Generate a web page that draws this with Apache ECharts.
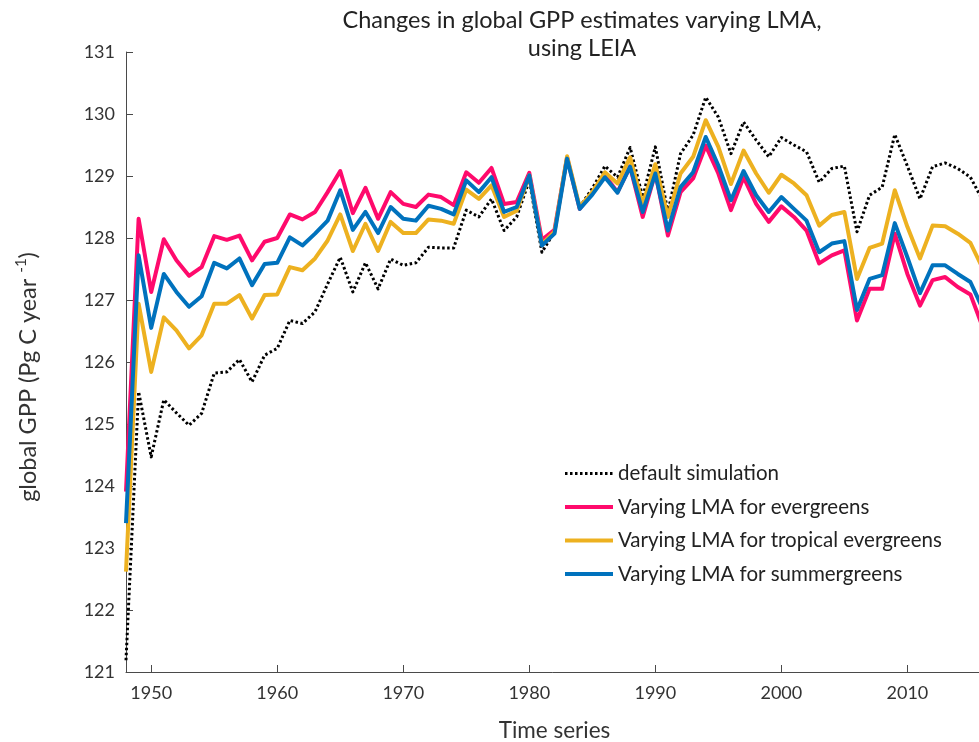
<!DOCTYPE html>
<html>
<head>
<meta charset="utf-8">
<title>Changes in global GPP estimates varying LMA, using LEIA</title>
<script src="https://cdn.jsdelivr.net/npm/echarts@6/dist/echarts.min.js"></script>
<style>
  html, body { margin: 0; padding: 0; background: #ffffff; }
  #chart { width: 979px; height: 742px; }
</style>
</head>
<body>
<div id="chart"></div>
<script>
// Simulation years
const years = [
  1948, 1949, 1950, 1951, 1952, 1953, 1954, 1955, 1956, 1957,
  1958, 1959, 1960, 1961, 1962, 1963, 1964, 1965, 1966, 1967,
  1968, 1969, 1970, 1971, 1972, 1973, 1974, 1975, 1976, 1977,
  1978, 1979, 1980, 1981, 1982, 1983, 1984, 1985, 1986, 1987,
  1988, 1989, 1990, 1991, 1992, 1993, 1994, 1995, 1996, 1997,
  1998, 1999, 2000, 2001, 2002, 2003, 2004, 2005, 2006, 2007,
  2008, 2009, 2010, 2011, 2012, 2013, 2014, 2015, 2016
];

// Global GPP (Pg C / year), default simulation
const defaultSimulation = [
  121.19, 125.52, 124.47, 125.39, 125.18, 124.98, 125.17, 125.82, 125.84, 126.04,
  125.68, 126.11, 126.22, 126.67, 126.62, 126.81, 127.26, 127.69, 127.13, 127.60,
  127.18, 127.66, 127.56, 127.60, 127.85, 127.84, 127.84, 128.45, 128.34, 128.63,
  128.12, 128.34, 128.93, 127.77, 128.10, 129.28, 128.50, 128.80, 129.16, 128.98,
  129.46, 128.66, 129.47, 128.42, 129.36, 129.66, 130.27, 129.95, 129.36, 129.87,
  129.58, 129.31, 129.62, 129.50, 129.39, 128.90, 129.12, 129.16, 128.10, 128.69,
  128.82, 129.67, 129.16, 128.63, 129.15, 129.21, 129.12, 128.98, 128.60
];

// Varying LMA for evergreens
const lmaEvergreens = [
  123.91, 128.31, 127.13, 127.98, 127.64, 127.39, 127.53, 128.03, 127.97, 128.04,
  127.64, 127.94, 128.00, 128.38, 128.30, 128.42, 128.74, 129.08, 128.40, 128.81,
  128.31, 128.74, 128.55, 128.50, 128.70, 128.66, 128.53, 129.06, 128.89, 129.13,
  128.55, 128.58, 129.05, 127.97, 128.13, 129.30, 128.47, 128.72, 129.01, 128.74,
  129.15, 128.34, 129.05, 128.04, 128.74, 128.96, 129.49, 129.04, 128.45, 128.98,
  128.55, 128.26, 128.51, 128.34, 128.12, 127.59, 127.72, 127.80, 126.67, 127.18,
  127.18, 128.07, 127.42, 126.91, 127.32, 127.37, 127.21, 127.09, 126.55
];

// Varying LMA for tropical evergreens
const lmaTropicalEvergreens = [
  122.62, 126.94, 125.84, 126.72, 126.51, 126.22, 126.43, 126.94, 126.94, 127.08,
  126.70, 127.08, 127.09, 127.53, 127.48, 127.67, 127.96, 128.38, 127.79, 128.23,
  127.79, 128.26, 128.08, 128.08, 128.30, 128.28, 128.23, 128.78, 128.63, 128.85,
  128.34, 128.44, 129.01, 127.90, 128.10, 129.32, 128.50, 128.74, 129.06, 128.88,
  129.30, 128.55, 129.19, 128.34, 129.04, 129.31, 129.90, 129.47, 128.87, 129.41,
  129.04, 128.73, 129.02, 128.88, 128.69, 128.20, 128.37, 128.42, 127.34, 127.84,
  127.91, 128.77, 128.18, 127.67, 128.20, 128.19, 128.07, 127.92, 127.50
];

// Varying LMA for summergreens
const lmaSummergreens = [
  123.40, 127.72, 126.55, 127.42, 127.13, 126.89, 127.06, 127.60, 127.51, 127.67,
  127.24, 127.58, 127.60, 128.01, 127.88, 128.07, 128.28, 128.77, 128.13, 128.42,
  128.08, 128.50, 128.31, 128.28, 128.52, 128.47, 128.38, 128.93, 128.74, 128.98,
  128.42, 128.50, 129.01, 127.88, 128.07, 129.28, 128.47, 128.70, 128.98, 128.73,
  129.15, 128.42, 129.04, 128.12, 128.82, 129.06, 129.63, 129.17, 128.61, 129.08,
  128.69, 128.42, 128.66, 128.47, 128.28, 127.77, 127.91, 127.95, 126.84, 127.34,
  127.40, 128.24, 127.69, 127.11, 127.56, 127.56, 127.42, 127.29, 126.85
];

const seriesNames = [
  'default simulation',
  'Varying LMA for evergreens',
  'Varying LMA for tropical evergreens',
  'Varying LMA for summergreens'
];

const xTickValues = [1950, 1960, 1970, 1980, 1990, 2000, 2010];

const FONT = 'Lato, "Open Sans", sans-serif';
const AXIS_COLOR = '#4a4a4a';
const TEXT_COLOR = '#333333';
const COLORS = ['#000000', '#FF0A6C', '#EDB120', '#0072BD'];
const DOTTED = [2.5, 2.5];

const pair = (vals) => years.map((y, i) => [y, vals[i]]);

const chart = echarts.init(document.getElementById('chart'), null, { renderer: 'canvas' });

const lineSeries = (idx, vals, style) => ({
  name: seriesNames[idx],
  type: 'line',
  data: pair(vals),
  showSymbol: false,
  symbol: 'none',
  clip: true,
  lineStyle: Object.assign({ color: COLORS[idx], join: 'round' }, style),
  itemStyle: { color: COLORS[idx] },
  emphasis: { disabled: true },
  animation: false
});

// legend entries: line sample only, no marker
const legendEntry = (idx, style) => ({
  name: seriesNames[idx],
  itemStyle: { opacity: 0 },
  lineStyle: Object.assign({ color: COLORS[idx] }, style)
});

chart.setOption({
  animation: false,
  textStyle: { fontFamily: FONT },
  title: {
    text: 'Changes in global GPP estimates varying LMA,\nusing LEIA',
    left: 577,
    top: 1,
    textAlign: 'center',
    textStyle: {
      fontFamily: FONT,
      fontSize: 23.5,
      fontWeight: 'normal',
      color: '#222222',
      lineHeight: 28
    }
  },
  legend: {
    orient: 'vertical',
    left: 563,
    top: 463,
    padding: 0,
    itemWidth: 48,
    itemHeight: 20,
    itemGap: 12.5,
    selectedMode: false,
    itemStyle: { opacity: 0 },
    textStyle: {
      fontFamily: FONT,
      fontSize: 20.5,
      color: '#222222',
      lineHeight: 20
    },
    data: [
      legendEntry(0, { width: 3, type: DOTTED }),
      legendEntry(1, { width: 4, type: 'solid' }),
      legendEntry(2, { width: 4, type: 'solid' }),
      legendEntry(3, { width: 4, type: 'solid' })
    ]
  },
  grid: {
    left: 126,
    top: 52,
    width: 857,
    height: 620,
    containLabel: false,
    outerBoundsMode: 'none'
  },
  xAxis: {
    type: 'value',
    min: 1948,
    max: 2016,
    name: 'Time series',
    nameLocation: 'middle',
    nameGap: 47,
    nameMoveOverlap: false,
    nameTextStyle: {
      fontFamily: FONT,
      fontSize: 22.5,
      color: TEXT_COLOR,
      verticalAlign: 'top'
    },
    splitLine: { show: false },
    axisLine: { show: true, lineStyle: { color: AXIS_COLOR, width: 1 } },
    axisTick: {
      show: true,
      inside: true,
      length: 7,
      customValues: xTickValues,
      lineStyle: { color: AXIS_COLOR, width: 1 }
    },
    axisLabel: {
      fontFamily: FONT,
      fontSize: 18,
      color: TEXT_COLOR,
      margin: 12,
      customValues: xTickValues,
      formatter: (v) => String(v)
    }
  },
  yAxis: {
    type: 'value',
    min: 121,
    max: 131,
    interval: 1,
    name: '{a|global GPP (Pg C year }{s|-1}{a|)}',
    nameLocation: 'middle',
    nameGap: 84,
    nameMoveOverlap: false,
    nameTextStyle: {
      color: TEXT_COLOR,
      padding: [0, 30, 0, 0],
      rich: {
        a: { fontFamily: FONT, fontSize: 23.5, color: TEXT_COLOR, lineHeight: 28 },
        s: { fontFamily: FONT, fontSize: 15, color: TEXT_COLOR, lineHeight: 28, verticalAlign: 'top', padding: [0, 0, 10, 0] }
      }
    },
    splitLine: { show: false },
    axisLine: { show: true, lineStyle: { color: AXIS_COLOR, width: 1 } },
    axisTick: {
      show: true,
      inside: true,
      length: 7,
      lineStyle: { color: AXIS_COLOR, width: 1 }
    },
    axisLabel: {
      fontFamily: FONT,
      fontSize: 18,
      color: TEXT_COLOR,
      margin: 11
    }
  },
  series: [
    lineSeries(0, defaultSimulation, { width: 3, type: DOTTED, cap: 'butt' }),
    lineSeries(1, lmaEvergreens, { width: 4 }),
    lineSeries(2, lmaTropicalEvergreens, { width: 4 }),
    lineSeries(3, lmaSummergreens, { width: 4 })
  ]
});
</script>
</body>
</html>
